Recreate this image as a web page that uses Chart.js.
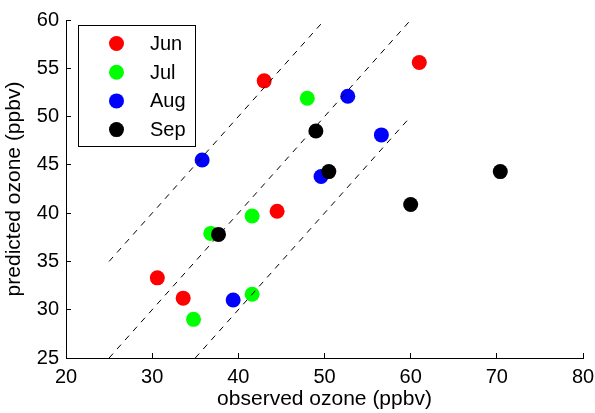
<!DOCTYPE html>
<html>
<head>
<meta charset="utf-8">
<script src="https://cdn.jsdelivr.net/npm/chart.js@4/dist/chart.umd.min.js"></script>
<style>
  body { margin: 0; background: #fff; }
  #wrap { width: 595px; height: 413px; position: relative; }
</style>
</head>
<body>
<div id="wrap"><canvas id="chart"></canvas></div>
<script>
const months = ["Jun", "Jul", "Aug", "Sep"];
const monthColors = ["#ff0000", "#00ff00", "#0000ff", "#000000"];

// observed (x) and predicted (y) ozone, ppbv
const junObserved = [43.0, 61.0, 44.5, 30.6, 33.6];
const junPredicted = [53.7, 55.6, 40.2, 33.3, 31.2];
const julObserved = [48.0, 36.8, 41.6, 34.8, 41.6];
const julPredicted = [51.9, 37.9, 39.7, 29.0, 31.6];
const augObserved = [35.8, 52.7, 56.6, 49.6, 39.4];
const augPredicted = [45.5, 52.1, 48.1, 43.8, 31.0];
const sepObserved = [49.0, 50.5, 70.4, 60.0, 37.7];
const sepPredicted = [48.5, 44.3, 44.3, 40.9, 37.8];

// 1:1 line and +/-10 ppbv lines
const upperLineX = [25, 50];
const upperLineY = [35, 60];
const middleLineX = [25, 60];
const middleLineY = [25, 60];
const lowerLineX = [35, 60];
const lowerLineY = [25, 50];

const xMin = 20, xMax = 80, xStep = 10;
const yMin = 25, yMax = 60, yStep = 5;

const fontFamily = "'Liberation Sans', Arial, sans-serif";

function toPoints(xs, ys) {
  return xs.map((x, i) => ({ x: x, y: ys[i] }));
}

const observed = [junObserved, julObserved, augObserved, sepObserved];
const predicted = [junPredicted, julPredicted, augPredicted, sepPredicted];

const datasets = [];
months.forEach((m, i) => {
  datasets.push({
    label: m,
    data: toPoints(observed[i], predicted[i]),
    backgroundColor: monthColors[i],
    borderWidth: 0,
    pointRadius: 7.5,
    pointHoverRadius: 7.5,
    order: months.length - i,
  });
});

[[upperLineX, upperLineY], [middleLineX, middleLineY], [lowerLineX, lowerLineY]].forEach((l) => {
  datasets.push({
    type: "line",
    label: "",
    data: toPoints(l[0], l[1]),
    borderColor: "#000000",
    borderWidth: 1,
    borderDash: [6, 6],
    pointRadius: 0,
    fill: false,
    order: 0,
  });
});

// boxed legend in the upper left, matlab style
const boxLegend = {
  id: "boxLegend",
  afterDatasetsDraw(chart) {
    const ctx = chart.ctx;
    const area = chart.chartArea;
    const left = area.left + 12;
    const top = area.top + 5;
    const w = 117, h = 121;
    ctx.save();
    ctx.fillStyle = "#ffffff";
    ctx.fillRect(left, top, w, h);
    ctx.strokeStyle = "#000000";
    ctx.lineWidth = 1;
    ctx.strokeRect(left + 0.5, top + 0.5, w, h);
    ctx.font = "20px " + fontFamily;
    ctx.textBaseline = "middle";
    ctx.textAlign = "left";
    let row = 0;
    chart.data.datasets.forEach((ds) => {
      if (!ds.label) return;
      const cy = top + 18.5 + row * 28.7;
      ctx.beginPath();
      ctx.arc(left + 38.5, cy, 7.5, 0, Math.PI * 2);
      ctx.fillStyle = ds.backgroundColor;
      ctx.fill();
      ctx.fillStyle = "#000000";
      ctx.fillText(ds.label, left + 72, cy + 1);
      row++;
    });
    ctx.restore();
  },
};

const config = {
  type: "scatter",
  data: { datasets: datasets },
  options: {
    responsive: true,
    maintainAspectRatio: false,
    animation: false,
    devicePixelRatio: 1,
    layout: { padding: { left: 0, right: 12, top: 20, bottom: 0 } },
    plugins: {
      legend: { display: false },
      tooltip: { enabled: false },
    },
    scales: {
      x: {
        type: "linear",
        min: xMin,
        max: xMax,
        ticks: {
          stepSize: xStep,
          color: "#000000",
          padding: 12,
          font: { family: fontFamily, size: 20 },
        },
        grid: { drawOnChartArea: false, tickLength: -5, color: "#000000" },
        border: { color: "#000000", width: 1 },
        title: {
          display: true,
          text: "observed ozone (ppbv)",
          color: "#000000",
          font: { family: fontFamily, size: 21 },
          padding: { top: 0, bottom: 1 },
        },
        afterFit(scale) {
          scale.height = 55;
          scale.paddingLeft = 0;
          scale.paddingRight = 0;
        },
      },
      y: {
        type: "linear",
        min: yMin,
        max: yMax,
        ticks: {
          stepSize: yStep,
          color: "#000000",
          padding: 12,
          font: { family: fontFamily, size: 20 },
        },
        grid: { drawOnChartArea: false, tickLength: -5, color: "#000000" },
        border: { color: "#000000", width: 1 },
        title: {
          display: true,
          text: "predicted ozone (ppbv)",
          color: "#000000",
          font: { family: fontFamily, size: 21 },
          padding: { top: 2, bottom: 0 },
        },
        afterFit(scale) {
          scale.width = 66;
          scale.paddingTop = 0;
          scale.paddingBottom = 0;
        },
      },
    },
  },
  plugins: [boxLegend],
};

new Chart(document.getElementById("chart"), config);
</script>
</body>
</html>
